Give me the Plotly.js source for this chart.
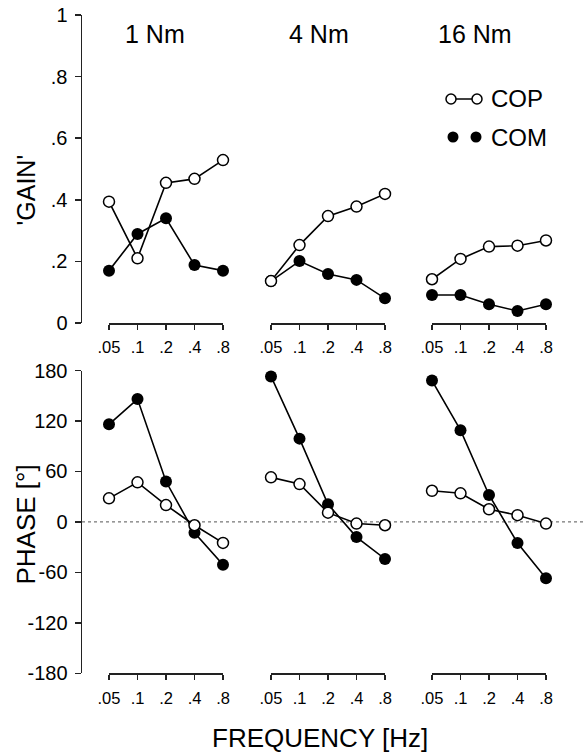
<!DOCTYPE html>
<html>
<head>
<meta charset="utf-8">
<script src="https://cdn.plot.ly/plotly-3.0.1.min.js"></script>
<style>html,body{margin:0;padding:0;background:#fff;}#chart{width:583px;height:754px;}</style>
</head>
<body>
<div id="chart"></div>
<script>
// ---- data ----
const freq = ['.05', '.1', '.2', '.4', '.8'];
const torques = ['1 Nm', '4 Nm', '16 Nm'];
const gainCOP_1 = [0.394, 0.21, 0.455, 0.468, 0.529];
const gainCOM_1 = [0.17, 0.289, 0.34, 0.188, 0.17];
const gainCOP_4 = [0.136, 0.253, 0.347, 0.378, 0.419];
const gainCOM_4 = [0.136, 0.201, 0.159, 0.14, 0.08];
const gainCOP_16 = [0.142, 0.208, 0.248, 0.251, 0.268];
const gainCOM_16 = [0.091, 0.091, 0.061, 0.039, 0.061];
const phaseCOP_1 = [28, 47, 20, -4, -25];
const phaseCOM_1 = [116, 146, 48, -13, -51];
const phaseCOP_4 = [53, 45, 11, -2, -4];
const phaseCOM_4 = [173, 99, 21, -18, -44];
const phaseCOP_16 = [37, 34, 15, 8, -2];
const phaseCOM_16 = [168, 109, 32, -25, -67];
const gainTicks = [0, 0.2, 0.4, 0.6, 0.8, 1];
const gainTickText = ['0', '.2', '.4', '.6', '.8', '1'];
const phaseTicks = [180, 120, 60, 0, -60, -120, -180];
const phaseTickText = ['180', '120', '60', '0', '-60', '-120', '-180'];
const seriesNames = ['COP', 'COM'];

// ---- layout helpers ----
const W = 583, H = 754;
const FONT = 'Liberation Sans, Arial, Helvetica, sans-serif';
const px = v => v / W;
const py = v => 1 - v / H;
const AX = '#222';

const gainCOP = [gainCOP_1, gainCOP_4, gainCOP_16];
const gainCOM = [gainCOM_1, gainCOM_4, gainCOM_16];
const phaseCOP = [phaseCOP_1, phaseCOP_4, phaseCOP_16];
const phaseCOM = [phaseCOM_1, phaseCOM_4, phaseCOM_16];

const xDomains = [[px(109), px(223)], [px(271), px(385)], [px(432), px(546)]];
const topDomain = [py(323), py(15)];
const botDomain = [py(673.3), py(370.5)];

const comStyle = {mode: 'lines+markers', line: {color: '#000', width: 1.6},
  marker: {symbol: 'circle', size: 12, color: '#000', line: {color: '#000', width: 0}},
  cliponaxis: false, showlegend: false, hoverinfo: 'skip'};
const copStyle = {mode: 'lines+markers', line: {color: '#000', width: 1.6},
  marker: {symbol: 'circle', size: 11, color: '#fff', line: {color: '#000', width: 1.5}},
  cliponaxis: false, showlegend: false, hoverinfo: 'skip'};

const traces = [];
for (let i = 0; i < 3; i++) {
  const xt = 'x' + (i === 0 ? '' : (i + 1));
  const xb = 'x' + (i + 4);
  traces.push(Object.assign({x: freq, y: gainCOM[i], xaxis: xt, yaxis: 'y', name: seriesNames[1]}, comStyle));
  traces.push(Object.assign({x: freq, y: gainCOP[i], xaxis: xt, yaxis: 'y', name: seriesNames[0]}, copStyle));
  traces.push(Object.assign({x: freq, y: phaseCOM[i], xaxis: xb, yaxis: 'y2', name: seriesNames[1]}, comStyle));
  traces.push(Object.assign({x: freq, y: phaseCOP[i], xaxis: xb, yaxis: 'y2', name: seriesNames[0]}, copStyle));
}

function xAxis(domain, anchor) {
  return {
    type: 'category', domain: domain, anchor: anchor, range: [0, 4],
    showline: true, linecolor: AX, linewidth: 1.5, mirror: false,
    ticks: 'outside', ticklen: 5, tickwidth: 1.5, tickcolor: AX,
    showgrid: false, zeroline: false, automargin: false, fixedrange: true,
    tickfont: {family: FONT, size: 16.5, color: '#000'}, ticklabelstandoff: 4
  };
}

const layout = {
  width: W, height: H,
  margin: {l: 0, r: 0, t: 0, b: 0, pad: 0},
  paper_bgcolor: '#fff', plot_bgcolor: 'rgba(0,0,0,0)',
  showlegend: false,
  font: {family: FONT, color: '#000'},
  xaxis: xAxis(xDomains[0], 'y'),
  xaxis2: xAxis(xDomains[1], 'y'),
  xaxis3: xAxis(xDomains[2], 'y'),
  xaxis4: xAxis(xDomains[0], 'y2'),
  xaxis5: xAxis(xDomains[1], 'y2'),
  xaxis6: xAxis(xDomains[2], 'y2'),
  yaxis: {
    domain: topDomain, anchor: 'free', position: px(80.5), range: [0, 1],
    tickvals: gainTicks, ticktext: gainTickText,
    showline: true, linecolor: AX, linewidth: 1.5,
    ticks: 'outside', ticklen: 6, tickwidth: 1.5, tickcolor: AX,
    showgrid: false, zeroline: false, automargin: false, fixedrange: true,
    tickfont: {family: FONT, size: 20, color: '#000'}, ticklabelstandoff: 3
  },
  yaxis2: {
    domain: botDomain, anchor: 'free', position: px(80.5), range: [-180, 180],
    tickvals: phaseTicks, ticktext: phaseTickText,
    showline: true, linecolor: AX, linewidth: 1.5,
    ticks: 'outside', ticklen: 6, tickwidth: 1.5, tickcolor: AX,
    showgrid: false, zeroline: false, automargin: false, fixedrange: true,
    tickfont: {family: FONT, size: 20, color: '#000'}, ticklabelstandoff: 3
  },
  shapes: [
    // dotted zero reference line across the phase row
    {type: 'line', xref: 'paper', yref: 'y2', x0: px(82), x1: 1, y0: 0, y1: 0,
     line: {color: '#555', width: 1, dash: 'dot'}, layer: 'below'},
    // legend: COP
    {type: 'line', xref: 'paper', yref: 'paper', x0: px(451), x1: px(477), y0: py(99), y1: py(99),
     line: {color: '#000', width: 1.5}},
    {type: 'circle', xref: 'paper', yref: 'paper', xsizemode: 'pixel', ysizemode: 'pixel',
     xanchor: px(451), yanchor: py(99), x0: -5, x1: 5, y0: -5, y1: 5,
     fillcolor: '#fff', line: {color: '#000', width: 1.5}},
    {type: 'circle', xref: 'paper', yref: 'paper', xsizemode: 'pixel', ysizemode: 'pixel',
     xanchor: px(477), yanchor: py(99), x0: -5, x1: 5, y0: -5, y1: 5,
     fillcolor: '#fff', line: {color: '#000', width: 1.5}},
    // legend: COM
    {type: 'circle', xref: 'paper', yref: 'paper', xsizemode: 'pixel', ysizemode: 'pixel',
     xanchor: px(453), yanchor: py(137), x0: -5.5, x1: 5.5, y0: -5.5, y1: 5.5,
     fillcolor: '#000', line: {color: '#000', width: 0}},
    {type: 'circle', xref: 'paper', yref: 'paper', xsizemode: 'pixel', ysizemode: 'pixel',
     xanchor: px(476), yanchor: py(137), x0: -5.5, x1: 5.5, y0: -5.5, y1: 5.5,
     fillcolor: '#000', line: {color: '#000', width: 0}}
  ],
  annotations: [
    {text: torques[0], xref: 'paper', yref: 'paper', x: px(155), y: py(34), xanchor: 'center', yanchor: 'middle',
     showarrow: false, font: {family: FONT, size: 25, color: '#000'}},
    {text: torques[1], xref: 'paper', yref: 'paper', x: px(319), y: py(34), xanchor: 'center', yanchor: 'middle',
     showarrow: false, font: {family: FONT, size: 25, color: '#000'}},
    {text: torques[2], xref: 'paper', yref: 'paper', x: px(475), y: py(34), xanchor: 'center', yanchor: 'middle',
     showarrow: false, font: {family: FONT, size: 25, color: '#000'}},
    {text: "'GAIN'", xref: 'paper', yref: 'paper', x: px(25.5), y: py(190), xanchor: 'center', yanchor: 'middle',
     textangle: -90, showarrow: false, font: {family: FONT, size: 25, color: '#000'}},
    {text: 'PHASE [°]', xref: 'paper', yref: 'paper', x: px(25.5), y: py(525), xanchor: 'center', yanchor: 'middle',
     textangle: -90, showarrow: false, font: {family: FONT, size: 26, color: '#000'}},
    {text: 'FREQUENCY [Hz]', xref: 'paper', yref: 'paper', x: px(320), y: py(738), xanchor: 'center', yanchor: 'middle',
     showarrow: false, font: {family: FONT, size: 26, color: '#000'}},
    {text: seriesNames[0], xref: 'paper', yref: 'paper', x: px(489), y: py(99), xanchor: 'left', yanchor: 'middle',
     showarrow: false, font: {family: FONT, size: 24, color: '#000'}},
    {text: seriesNames[1], xref: 'paper', yref: 'paper', x: px(489), y: py(137), xanchor: 'left', yanchor: 'middle',
     showarrow: false, font: {family: FONT, size: 24, color: '#000'}}
  ]
};

Plotly.newPlot('chart', traces, layout, {staticPlot: true, displayModeBar: false});
</script>
</body>
</html>
